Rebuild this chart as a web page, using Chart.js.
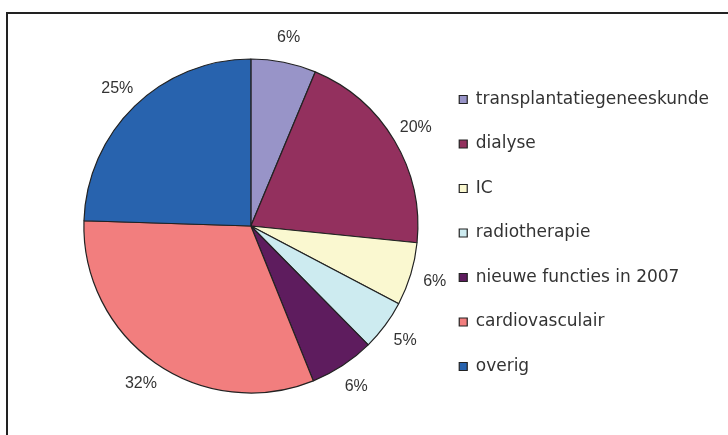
<!DOCTYPE html>
<html>
<head>
<meta charset="utf-8">
<script src="https://cdn.jsdelivr.net/npm/chart.js@4.4.0/dist/chart.umd.min.js"></script>
<style>
  html, body { margin: 0; padding: 0; background: #fff; overflow: hidden; }
  #frame {
    position: absolute; left: 6px; top: 12px; width: 760px; height: 440px;
    border-left: 2px solid #222; border-top: 2px solid #222;
  }
  #wrap { position: absolute; left: 0; top: 0; width: 760px; height: 435px; }
</style>
</head>
<body>
<div id="frame"></div>
<div id="wrap"><canvas id="pieChart"></canvas></div>
<script>
// categorieën en aandelen (%)
const categories = ['transplantatiegeneeskunde', 'dialyse', 'IC', 'radiotherapie',
  'nieuwe functies in 2007', 'cardiovasculair', 'overig'];
const shares = [6.3, 20.3, 6.1, 4.9, 6.3, 31.6, 24.5];
const shareLabels = ['6%', '20%', '6%', '5%', '6%', '32%', '25%'];
const colors = ['#9894C8', '#93305E', '#FAF8D0', '#CDEBF0', '#5E1C5E', '#F27E7E', '#2863AE'];

// percentages buiten de taart tekenen
const outsideLabels = {
  id: 'outsideLabels',
  afterDraw(chart) {
    const ctx = chart.ctx;
    const meta = chart.getDatasetMeta(0);
    ctx.save();
    ctx.font = '16px "Liberation Sans", Arial, sans-serif';
    ctx.fillStyle = '#333';
    ctx.textAlign = 'center';
    ctx.textBaseline = 'middle';
    meta.data.forEach((arc, i) => {
      const p = arc.getProps(['x', 'y', 'startAngle', 'endAngle', 'outerRadius'], true);
      const mid = (p.startAngle + p.endAngle) / 2;
      const d = p.outerRadius + 25;
      ctx.fillText(shareLabels[i], p.x + Math.cos(mid) * d, p.y + Math.sin(mid) * d);
    });
    ctx.restore();
  }
};

const ctx = document.getElementById('pieChart').getContext('2d');
new Chart(ctx, {
  type: 'pie',
  data: {
    labels: categories,
    datasets: [{
      data: shares,
      backgroundColor: colors,
      borderColor: '#222',
      borderWidth: 1.2,
      radius: 167
    }]
  },
  options: {
    responsive: true,
    maintainAspectRatio: false,
    animation: false,
    layout: { padding: { left: 70, top: 25, bottom: 8, right: 41 } },
    plugins: {
      tooltip: { enabled: false },
      legend: {
        position: 'right',
        // lege titel schuift de legenda iets omlaag
        title: { display: true, text: '', padding: 0, font: { size: 10, lineHeight: 1.4 } },
        labels: {
          boxWidth: 8,
          boxHeight: 8,
          padding: 27.5,
          color: '#333',
          font: { family: '"DejaVu Sans", Verdana, sans-serif', size: 17 }
        }
      }
    }
  },
  plugins: [outsideLabels]
});
</script>
</body>
</html>
